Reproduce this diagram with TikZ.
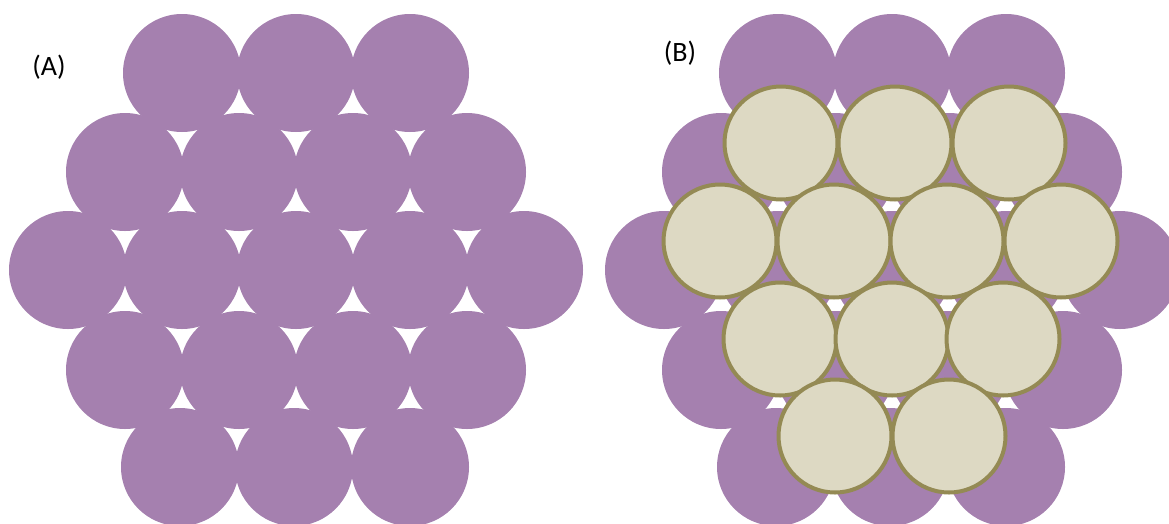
\documentclass[tikz,border=0pt]{standalone}
\usepackage{fontspec}
\setmainfont{Carlito}
\definecolor{ballpurple}{RGB}{165,128,175}
\definecolor{ballbeige}{RGB}{221,217,195}
\definecolor{ballolive}{RGB}{148,138,84}
\tikzset{
  lowerball/.style={circle,fill=ballpurple,draw=none,minimum size=118pt,inner sep=0pt},
  upperball/.style={circle,fill=ballbeige,draw=ballolive,line width=4pt,minimum size=113pt,inner sep=0pt},
  panellabel/.style={font=\fontsize{28}{32}\selectfont,inner sep=0pt}
}
\begin{document}
\begin{tikzpicture}[x=1pt,y=-1pt]
\useasboundingbox (0,0) rectangle (1169,523);
\clip (0,0) rectangle (1169,523);
% Panel A
\foreach \x [count=\i] in {182,296,410} \node[lowerball] (a1\i) at (\x,73) {};
\foreach \x [count=\i] in {125,239,353,467} \node[lowerball] (a2\i) at (\x,172) {};
\foreach \x [count=\i] in {68,182,296,410,524} \node[lowerball] (a3\i) at (\x,270) {};
\foreach \x [count=\i] in {125,239,353,467} \node[lowerball] (a4\i) at (\x,370) {};
\foreach \x [count=\i] in {180,294,410} \node[lowerball] (a5\i) at (\x,467) {};
\node[panellabel] (labA) at (49,67) {(A)};
% Panel B lower layer
\foreach \x [count=\i] in {778,892,1006} \node[lowerball] (b1\i) at (\x,73) {};
\foreach \x [count=\i] in {721,835,949,1063} \node[lowerball] (b2\i) at (\x,172) {};
\foreach \x [count=\i] in {664,778,892,1006,1120} \node[lowerball] (b3\i) at (\x,270) {};
\foreach \x [count=\i] in {721,835,949,1063} \node[lowerball] (b4\i) at (\x,370) {};
\foreach \x [count=\i] in {776,890,1006} \node[lowerball] (b5\i) at (\x,467) {};
% Panel B upper layer
\foreach \x [count=\i] in {781,895,1009} \node[upperball] (c1\i) at (\x,143) {};
\foreach \x [count=\i] in {720,834,947,1061} \node[upperball] (c2\i) at (\x,241) {};
\foreach \x [count=\i] in {780,892,1003} \node[upperball] (c3\i) at (\x,339) {};
\foreach \x [count=\i] in {835,949} \node[upperball] (c4\i) at (\x,436) {};
\node[panellabel] (labB) at (680,53) {(B)};
\end{tikzpicture}
\end{document}
